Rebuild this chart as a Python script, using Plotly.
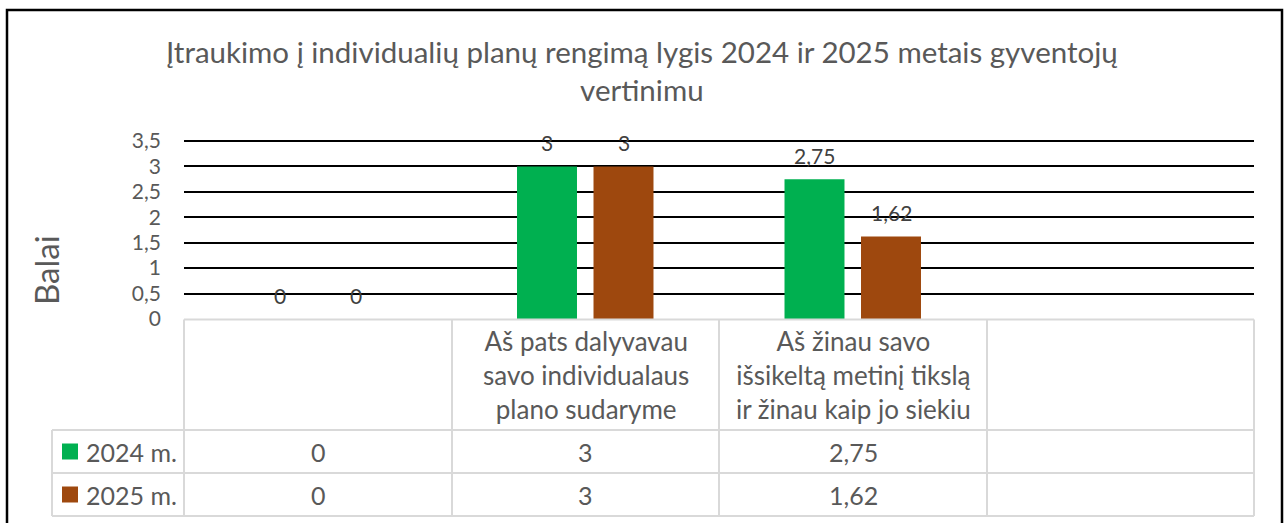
import plotly.graph_objects as go

# ---------------- data ----------------
categories = [
    "",
    "Aš pats dalyvavau savo individualaus plano sudaryme",
    "Aš žinau savo išsikeltą metinį tikslą ir žinau kaip jo siekiu",
    "",
]
header_lines = [
    "",
    "Aš pats dalyvavau<br>savo individualaus<br>plano sudaryme",
    "Aš žinau savo<br>išsikeltą metinį tikslą<br>ir žinau kaip jo siekiu",
    "",
]
series_names = ["2024 m.", "2025 m."]
values_2024 = [0, 3, 2.75, None]
values_2025 = [0, 3, 1.62, None]
series_values = [values_2024, values_2025]
series_colors = ["#00B050", "#9E480E"]
y_ticks = [0, 0.5, 1, 1.5, 2, 2.5, 3, 3.5]
title_text = "Įtraukimo į individualių planų rengimą lygis 2024 ir 2025 metais gyventojų<br>vertinimu"
y_title = "Balai"

# ---------------- layout constants ----------------
W, H = 1284, 523
L, R, T, B = 184, 1254, 141, 319
FONT = "Lato"
TXT = "#595959"
GRID = "#d9d9d9"
BARGAP = 0.428
BARGROUPGAP = 0.216


def px(x):
    return (x - L) / (R - L)


def py(y):
    return (B - y) / (B - T)


def fmt(v):
    if v is None:
        return ""
    s = ("%g" % v)
    return s.replace(".", ",")


xs = list(range(len(categories)))

fig = go.Figure()
for name, vals, col in zip(series_names, series_values, series_colors):
    fig.add_trace(go.Bar(
        x=xs, y=vals, name=name, marker=dict(color=col, line=dict(width=0)),
        showlegend=False, hoverinfo="skip",
    ))

annotations = []
shapes = []

# top gridline (at the upper edge of the value range, not clipped)
shapes.append(dict(type="line", xref="paper", yref="paper", x0=0, x1=1, y0=1, y1=1,
                   line=dict(color="black", width=2), layer="above"))

# data labels above bars
slot = (1 - BARGAP) / len(series_names)
for k, vals in enumerate(series_values):
    off = (k - (len(series_names) - 1) / 2) * slot
    for i, v in enumerate(vals):
        if v is None:
            continue
        annotations.append(dict(
            x=i + off, y=v, xref="x", yref="y", text=fmt(v), showarrow=False,
            yanchor="middle", yshift=24, font=dict(family=FONT, size=21, color="#404040"),
        ))

# title
annotations.append(dict(
    x=px(642), y=py(70), xref="paper", yref="paper", text=title_text, showarrow=False,
    xanchor="center", yanchor="middle", font=dict(family=FONT, size=29.5, color=TXT),
))
# y-axis title
annotations.append(dict(
    x=px(46), y=py(270), xref="paper", yref="paper", text=y_title, showarrow=False,
    textangle=-90, xanchor="center", yanchor="middle", font=dict(family=FONT, size=33, color=TXT),
))

# ---------------- data table ----------------
col_edges = [184, 452, 719, 987, 1254]
row_lab_left = 52
header_top, row1_top, row2_top, table_bottom = 319.5, 430, 473, 516
line = dict(color=GRID, width=2)

def hline(x0, x1, y):
    shapes.append(dict(type="line", xref="paper", yref="paper", x0=px(x0), x1=px(x1),
                       y0=py(y), y1=py(y), line=line))

def vline(x, y0, y1):
    shapes.append(dict(type="line", xref="paper", yref="paper", x0=px(x), x1=px(x),
                       y0=py(y0), y1=py(y1), line=line))

hline(col_edges[0], col_edges[-1], header_top)
for y in (row1_top, row2_top, table_bottom):
    hline(row_lab_left, col_edges[-1], y)
vline(row_lab_left, row1_top, table_bottom)
for x in col_edges:
    vline(x, header_top, table_bottom)

# header texts
for i, txt in enumerate(header_lines):
    if not txt:
        continue
    cx = (col_edges[i] + col_edges[i + 1]) / 2
    annotations.append(dict(
        x=px(cx), y=py((header_top + row1_top) / 2), xref="paper", yref="paper", text=txt,
        showarrow=False, xanchor="center", yanchor="middle", align="center",
        font=dict(family=FONT, size=26, color=TXT),
    ))

row_tops = [row1_top, row2_top]
row_bots = [row2_top, table_bottom]
for k, (name, vals, col) in enumerate(zip(series_names, series_values, series_colors)):
    cy = (row_tops[k] + row_bots[k]) / 2
    # legend key
    shapes.append(dict(type="rect", xref="paper", yref="paper", x0=px(62), x1=px(78),
                       y0=py(cy - 8), y1=py(cy + 8), fillcolor=col, line=dict(width=0)))
    annotations.append(dict(
        x=px(84), y=py(cy), xref="paper", yref="paper", text=name, showarrow=False,
        xanchor="left", yanchor="middle", font=dict(family=FONT, size=25, color=TXT),
    ))
    for i, v in enumerate(vals):
        if v is None:
            continue
        cx = (col_edges[i] + col_edges[i + 1]) / 2
        annotations.append(dict(
            x=px(cx), y=py(cy), xref="paper", yref="paper", text=fmt(v), showarrow=False,
            xanchor="center", yanchor="middle", font=dict(family=FONT, size=25, color=TXT),
        ))

# outer chart border
shapes.append(dict(type="rect", xref="paper", yref="paper", x0=px(7), x1=px(1282),
                   y0=py(540), y1=py(10), line=dict(color="black", width=2.5),
                   fillcolor="rgba(0,0,0,0)", layer="below"))

fig.update_layout(
    width=W, height=H,
    margin=dict(l=L, r=W - R, t=T, b=H - B, pad=0),
    paper_bgcolor="white", plot_bgcolor="white",
    barmode="group", bargap=BARGAP, bargroupgap=BARGROUPGAP,
    separators=", ",
    showlegend=False,
    xaxis=dict(range=[-0.5, len(categories) - 0.5], showticklabels=False, showgrid=False,
               zeroline=False, showline=False, ticks="", fixedrange=True),
    yaxis=dict(range=[0, 3.5], tickvals=y_ticks, showgrid=True, gridcolor="black", gridwidth=2,
               zeroline=False, showline=False, ticks="", ticklabelstandoff=22,
               tickfont=dict(family=FONT, size=21, color=TXT), fixedrange=True),
    annotations=annotations, shapes=shapes,
)

fig.write_html("out.html", config={"displayModeBar": False},
               post_script="document.body.style.margin='0';document.body.style.overflow='hidden';")
